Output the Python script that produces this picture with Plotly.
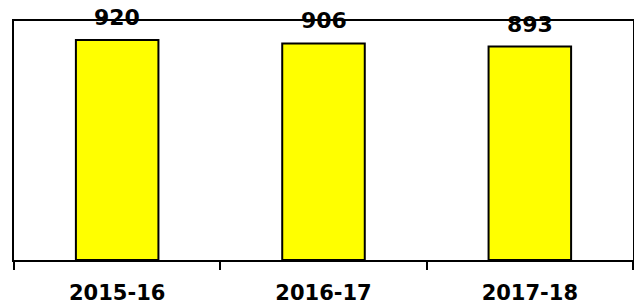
import plotly.graph_objects as go

categories = ["2015-16", "2016-17", "2017-18"]
values = [920, 906, 893]
value_labels = ["920", "906", "893"]

fig = go.Figure()
fig.add_trace(go.Bar(
    x=categories, y=values,
    marker=dict(color="#FFFF00", line=dict(color="#000000", width=2)),
    hoverinfo="skip",
))

for c, v, t in zip(categories, values, value_labels):
    fig.add_annotation(x=c, y=v, text=t, showarrow=False, yanchor="bottom", yshift=8,
                       font=dict(family="DejaVu Sans", size=22, color="black", weight="bold"))

fig.update_layout(
    width=634, height=304,
    margin=dict(l=14, r=1, t=21, b=44),
    paper_bgcolor="white", plot_bgcolor="white",
    bargap=0.6, showlegend=False,
    font=dict(family="DejaVu Sans", color="black"),
)
fig.update_xaxes(
    showline=True, linecolor="black", linewidth=2, mirror=True,
    ticks="outside", tickson="boundaries", ticklen=8, tickwidth=2, tickcolor="black",
    tickfont=dict(family="DejaVu Sans", size=21, color="black", weight="bold"),
    ticklabelstandoff=13, showgrid=False, automargin=False,
)
fig.update_yaxes(
    range=[0, 1000], showline=True, linecolor="black", linewidth=2, mirror=True,
    showticklabels=False, ticks="", showgrid=False, zeroline=False, automargin=False,
)

fig.write_html(
    "out.html",
    config={"displayModeBar": False},
    post_script="document.body.style.margin='0';document.body.style.overflow='hidden';",
)
